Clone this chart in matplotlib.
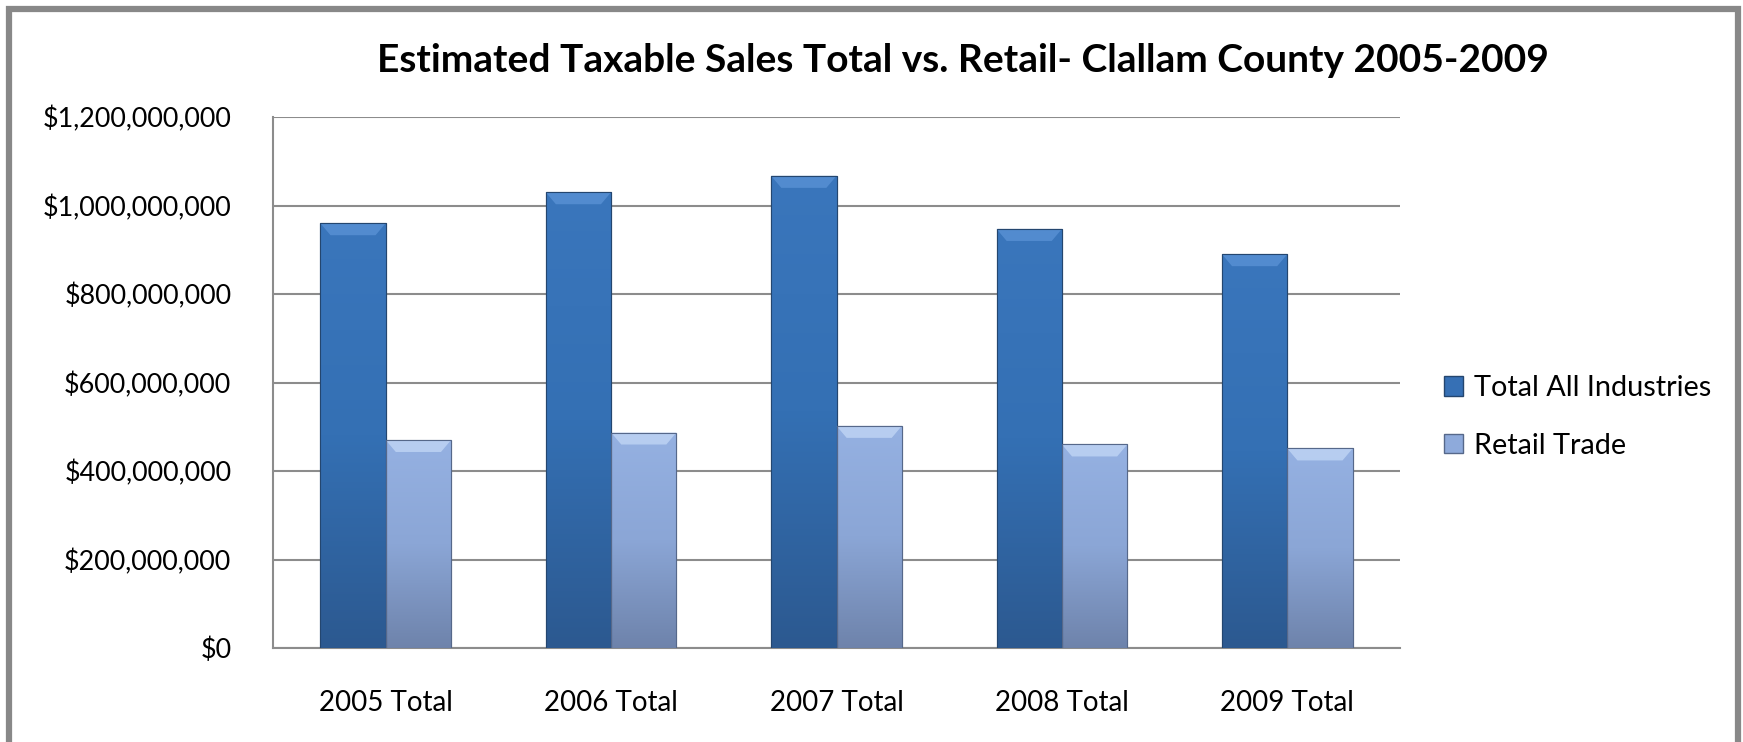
import numpy as np
import matplotlib
matplotlib.use('Agg')
import matplotlib.pyplot as plt
from matplotlib.patches import Rectangle, Polygon, Patch
from matplotlib.colors import LinearSegmentedColormap
from matplotlib.ticker import FuncFormatter

plt.rcParams['font.family'] = ['Lato', 'DejaVu Sans']

categories = ['2005 Total', '2006 Total', '2007 Total', '2008 Total', '2009 Total']
total_all = [960e6, 1030e6, 1067e6, 947e6, 890e6]
retail = [470e6, 487e6, 502e6, 460e6, 451e6]
series_names = ['Total All Industries', 'Retail Trade']

fig = plt.figure(figsize=(17.43, 7.42), dpi=100)
fig.patch.set_facecolor('white')

# grey frame round the chart
fig.patches.append(Rectangle((9 / 1743, -0.05), (1738 - 9) / 1743, 1.05 - 9 / 742,
                             transform=fig.transFigure, fill=False,
                             ec='#888888', lw=4.5, zorder=10))

ax = fig.add_axes([273 / 1743, 1 - 648 / 742, (1400 - 273) / 1743, (648 - 117) / 742])
ax.set_ylim(0, 1.2e9)
ax.set_xlim(-0.5, len(categories) - 0.5)

x = np.arange(len(categories))
w = 0.29
b1 = ax.bar(x - w / 2, total_all, width=w, color='#3670b5', ec='#24466f', lw=0.8, zorder=3)
b2 = ax.bar(x + w / 2, retail, width=w, color='#8eaadb', ec='#56688a', lw=0.8, zorder=3)

# gradient fill + bevel like the spreadsheet look
fig.canvas.draw()
px_per_unit = ax.get_window_extent().height / 1.2e9
bevel = 12 / px_per_unit
xbevel = 0.045

styles = [
    (b1, ['#2c5990', '#3470b4', '#3a76bc'], '#5b93d6'),
    (b2, ['#6e83ab', '#8ba6d6', '#95b1e2'], '#c3d8f6'),
]
for bars, cols, top in styles:
    cmap = LinearSegmentedColormap.from_list('g', cols)
    grad = np.linspace(0, 1, 256).reshape(-1, 1)
    for p in bars:
        x0, y0 = p.get_x(), p.get_y()
        bw, bh = p.get_width(), p.get_height()
        im = ax.imshow(grad, cmap=cmap, aspect='auto', origin='lower',
                       extent=(x0, x0 + bw, y0, y0 + bh), zorder=3.1)
        im.set_clip_path(p)
        ax.add_patch(Polygon([(x0, y0 + bh), (x0 + bw, y0 + bh),
                              (x0 + bw - xbevel, y0 + bh - bevel),
                              (x0 + xbevel, y0 + bh - bevel)],
                             closed=True, fc=top, ec='none', alpha=0.75, zorder=3.2))
        ax.add_patch(Rectangle((x0, y0), bw, bh, fill=False,
                               ec=p.get_edgecolor(), lw=0.8, zorder=3.3))

ax.set_xticks(x)
ax.set_xticklabels(categories, fontsize=20)
ax.set_yticks(np.arange(0, 1.2e9 + 1, 2e8))
ax.yaxis.set_major_formatter(FuncFormatter(lambda v, _: '${:,.0f}'.format(v)))
ax.tick_params(axis='y', length=0, pad=30, labelsize=19.4)
ax.tick_params(axis='x', length=0, pad=30)
ax.grid(axis='y', color='#8c8c8c', lw=1.5, zorder=0)
ax.set_axisbelow(True)
for s in ['top', 'right']:
    ax.spines[s].set_visible(False)
for s in ['left', 'bottom']:
    ax.spines[s].set_color('#8c8c8c')
    ax.spines[s].set_linewidth(1.5)

fig.text(963 / 1743, 1 - 61 / 742,
         'Estimated Taxable Sales Total vs. Retail- Clallam County 2005-2009',
         ha='center', va='center', fontsize=28, fontweight='bold')

handles = [Patch(fc='#3670b5', ec='#24466f'), Patch(fc='#8eaadb', ec='#56688a')]
fig.legend(handles, series_names, loc='center left',
           bbox_to_anchor=(1444 / 1743, 1 - 417 / 742), frameon=False,
           borderpad=0, borderaxespad=0,
           fontsize=20.8, handlelength=0.65, handleheight=0.65, handletextpad=0.38,
           labelspacing=1.1)

fig.savefig('out.png', dpi=100, facecolor='white')
